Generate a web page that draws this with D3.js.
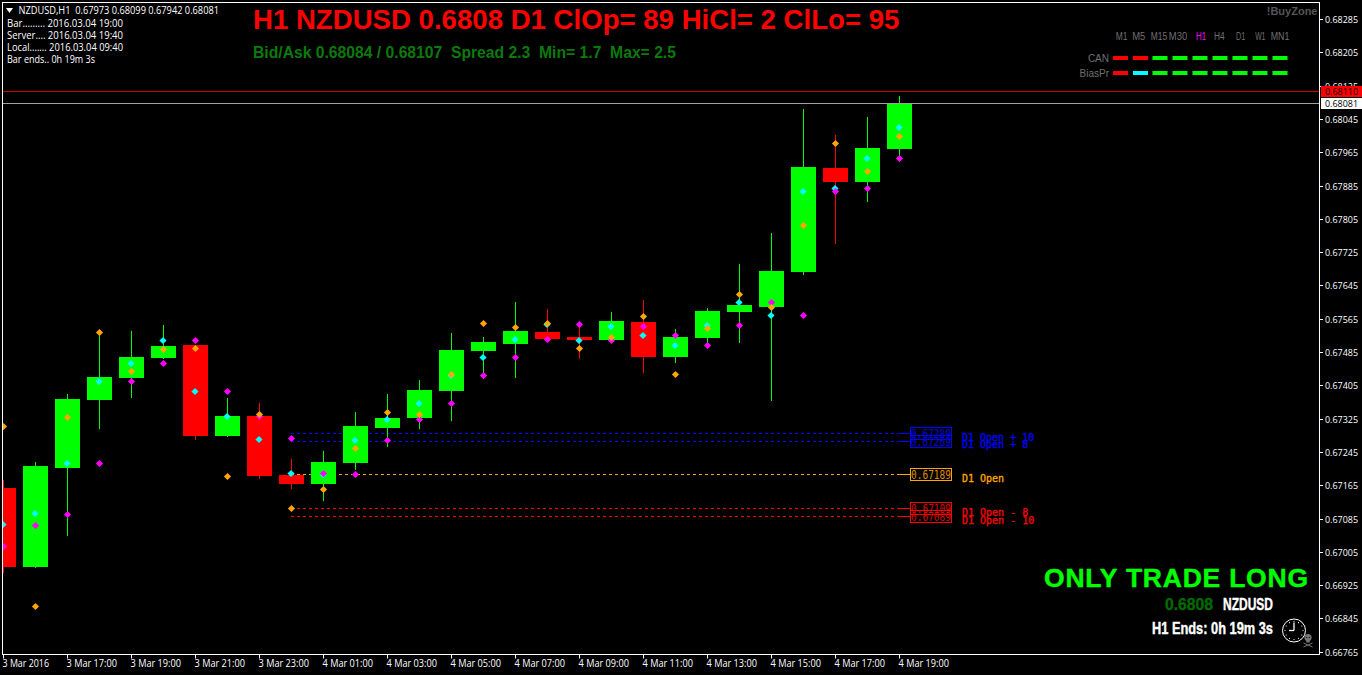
<!DOCTYPE html>
<html><head><meta charset="utf-8">
<style>html,body{margin:0;padding:0;background:#000;overflow:hidden}svg{display:block}text{white-space:pre}</style>
<script src="https://cdn.jsdelivr.net/npm/d3@7"></script></head>
<body><svg id="c" width="1362" height="675"></svg>
<script>
// Candles in 1e-5 price units
const opens =[67158,66969,67206,67370,67423,67471,67502,67283,67331,67190,67168,67219,67303,67327,67391,67488,67504,67533,67521,67514,67557,67473,67519,67581,67593,67677,67927,67893,67973];
const highs =[67178,67221,67384,67531,67536,67550,67503,67375,67363,67228,67247,67341,67384,67418,67531,67521,67605,67588,67552,67581,67610,67540,67591,67697,67771,68069,68006,68050,68099];
const lows  =[66955,66966,67044,67301,67375,67468,67274,67281,67180,67156,67126,67202,67257,67300,67319,67420,67423,67515,67468,67513,67435,67459,67502,67507,67367,67670,67745,67845,67942];
const closes=[66969,67211,67372,67425,67473,67500,67283,67331,67187,67168,67221,67307,67327,67394,67490,67509,67536,67516,67514,67560,67473,67521,67584,67598,67680,67930,67893,67975,68081];
const cyanPts   =[67070,67096,67217,67414,67458,67513,67390,67330,67275,67193,67190,67273,67323,67361,67429,67472,67515,67552,67513,67546,67525,67501,67548,67604,67573,67871,67878,67950,68024];
const magentaPts=[67017,67068,67095,67217,67414,67458,67513,67390,67330,67276,67193,67190,67273,67324,67361,67429,67472,67515,67551,67513,67546,67525,67501,67548,67604,67573,67871,67878,67950];
const orangePts =[67305,66874,67327,67531,67438,67491,67494,67186,67335,67110,67154,67253,67340,67335,67430,67554,67544,67554,67494,67520,67570,67431,67542,67623,67593,67789,67986,67919,68003];
const priceTicks=[0.68285,0.68205,0.68125,0.68045,0.67965,0.67885,0.67805,0.67725,0.67645,0.67565,0.67485,0.67405,0.67325,0.67245,0.67165,0.67085,0.67005,0.66925,0.66845,0.66765];
const timeTickIdx=[0,2,4,6,8,10,12,14,16,18,20,22,24,26,28];
const timeLabels=["3 Mar 2016","3 Mar 17:00","3 Mar 19:00","3 Mar 21:00","3 Mar 23:00","4 Mar 01:00","4 Mar 03:00","4 Mar 05:00","4 Mar 07:00","4 Mar 09:00","4 Mar 11:00","4 Mar 13:00","4 Mar 15:00","4 Mar 17:00","4 Mar 19:00"];
const levelPrices=[0.67289,0.67269,0.67189,0.67109,0.67089];
const levelNames=["D1 Open + 10","D1 Open + 8","D1 Open","D1 Open - 8","D1 Open - 10"];
const levelColors=["#0000ff","#0000ff","#ffa500","#ff0000","#ff0000"];
const askPrice=0.6811, bidPrice=0.68081;
const tfNames=["M1","M5","M15","M30","H1","H4","D1","W1","MN1"];
const canColors=["#f00","#f00","#0f0","#0f0","#0f0","#0f0","#0f0","#0f0","#0f0"];
const biasColors=["#f00","#0ff","#0f0","#0f0","#0f0","#0f0","#0f0","#0f0","#0f0"];
const infoLines=["Bar......... 2016.03.04 19:00","Server.... 2016.03.04 19:40","Local....... 2016.03.04 09:40","Bar ends.. 0h 19m 3s"];

const svg=d3.select("#c");
svg.append("rect").attr("width",1362).attr("height",675).attr("fill","#000");
const UI="'Open Sans',sans-serif";
const AR="'Liberation Sans',Arial,sans-serif";
const L=3,R=1319,T=2.5,B=654.5;
const y=d3.scaleLinear().domain([0.66765,0.68285]).range([651.7,19]);
const x=d3.scaleLinear().domain([0,28]).range([3,899]);
const yc=v=>y(v/1e5);
svg.append("defs").append("clipPath").attr("id","plot").append("rect").attr("x",L).attr("y",T).attr("width",R-L).attr("height",B-T);
const plot=svg.append("g").attr("clip-path","url(#plot)");
// text helper: squeezes to a measured width
function txt(parent,s,xx,yy,o){
  const t=parent.append("text").attr("x",xx).attr("y",yy).attr("font-family",o.font||UI).attr("font-size",o.size).attr("fill",o.fill).text(s);
  if(o.weight)t.attr("font-weight",o.weight);
  if(o.anchor)t.attr("text-anchor",o.anchor);
  if(o.w)t.attr("textLength",o.w).attr("lengthAdjust",o.adj||"spacingAndGlyphs");
  if(o.opacity)t.attr("opacity",o.opacity);
  if(o.stroke)t.attr("stroke",o.fill).attr("stroke-width",o.stroke);
  return t;
}

// level lines
levelPrices.forEach((p,i)=>{
  const yy=Math.round(y(p))-.5;
  plot.append("line").attr("x1",291).attr("x2",900).attr("y1",yy).attr("y2",yy).attr("stroke",levelColors[i]).attr("stroke-dasharray","3,3");
  plot.append("line").attr("x1",900).attr("x2",910).attr("y1",yy).attr("y2",yy).attr("stroke",levelColors[i]);
});

// candles
const idx=d3.range(opens.length);
const col=i=>closes[i]>=opens[i]?"#00ff00":"#ff0000";
plot.selectAll("line.w").data(idx).join("line").attr("class","w")
  .attr("x1",i=>x(i)+.5).attr("x2",i=>x(i)+.5).attr("y1",i=>yc(highs[i])).attr("y2",i=>yc(lows[i]))
  .attr("stroke",col).attr("shape-rendering","crispEdges");
plot.selectAll("rect.b").data(idx).join("rect").attr("class","b")
  .attr("x",i=>x(i)-12).attr("width",25)
  .attr("y",i=>yc(Math.max(opens[i],closes[i]))).attr("height",i=>Math.abs(yc(opens[i])-yc(closes[i])))
  .attr("fill",col).attr("shape-rendering","crispEdges");

// price lines
const askY=Math.round(y(askPrice))-.5, bidY=Math.round(y(bidPrice))-.5;
plot.append("line").attr("x1",L).attr("x2",R).attr("y1",askY).attr("y2",askY).attr("stroke","#d00000");
plot.append("line").attr("x1",L).attr("x2",R).attr("y1",bidY).attr("y2",bidY).attr("stroke","#a0a0a0");

// markers
const dia="M0,-3.6L3.6,0L0,3.6L-3.6,0Z";
function marks(arr,color,dx){
  plot.append("g").selectAll("path").data(arr).join("path").attr("d",dia)
    .attr("transform",(d,i)=>`translate(${x(i)+dx},${Math.floor(yc(d))+.5})`).attr("fill",color);
}
marks(cyanPts,"#00ffff",0);
marks(magentaPts,"#ff00ff",.5);
marks(orangePts,"#ffa500",.5);

// level boxes
levelPrices.forEach((p,i)=>{
  const yy=Math.round(y(p))-.5;
  svg.append("rect").attr("x",910.5).attr("y",yy-6).attr("width",41).attr("height",12).attr("fill","none").attr("stroke",levelColors[i]);
  txt(svg,p.toFixed(5),911,yy+4.5,{font:"'DejaVu Sans Mono',monospace",size:12.5,fill:levelColors[i],w:40,opacity:.85});
  txt(svg,levelNames[i],962,y(p)+(i==1?6:7),{font:"'DejaVu Sans Mono',monospace",size:10,fill:levelColors[i],stroke:.3});
});

// frame and axes
svg.append("rect").attr("x",2.5).attr("y",T).attr("width",R-2).attr("height",B-T).attr("fill","none").attr("stroke","#fff");
const yAxis=svg.append("g");
priceTicks.forEach(p=>{
  const yy=Math.round(y(p))+.5;
  yAxis.append("line").attr("x1",R).attr("x2",R+4).attr("y1",yy).attr("y2",yy).attr("stroke","#fff");
  txt(yAxis,p.toFixed(5),1325,yy+3,{size:9.6,fill:"#fff",w:33});
});
timeTickIdx.forEach((i,k)=>{
  const xx=Math.round(x(i))+.5;
  svg.append("line").attr("x1",xx).attr("x2",xx).attr("y1",B).attr("y2",B+4).attr("stroke","#fff");
  txt(svg,timeLabels[k],xx-1,667,{size:10.5,fill:"#fff",w:k==0?46.5:50.5});
});
// current price tags
svg.append("rect").attr("x",1321).attr("y",86).attr("width",41).attr("height",11).attr("fill","#ff0000");
txt(svg,askPrice.toFixed(5),1325,95,{size:9.6,fill:"#000",w:33});
svg.append("rect").attr("x",1321).attr("y",98).attr("width",41).attr("height",11).attr("fill","#fff");
txt(svg,bidPrice.toFixed(5),1325,107,{size:9.6,fill:"#000",w:33});

// header info
svg.append("path").attr("d","M6,8H13L9.5,13Z").attr("fill","#fff");
txt(svg,"NZDUSD,H1  0.67973 0.68099 0.67942 0.68081",18.5,14,{size:10,fill:"#fff",w:200.5});
infoLines.forEach((t,i)=>txt(svg,t,7,27+12*i,{size:10,fill:"#fff",w:i==3?88:116}));
txt(svg,"H1 NZDUSD 0.6808 D1 ClOp= 89 HiCl= 2 ClLo= 95",253,29,{font:AR,weight:700,size:27.6,fill:"#ff0000"});
txt(svg,"Bid/Ask 0.68084 / 0.68107  Spread 2.3  Min= 1.7  Max= 2.5",253,58,{font:AR,weight:700,size:15.7,fill:"#0b7a0b"});

// top-right dashboard
txt(svg,"!BuyZone",1317.5,15,{font:AR,weight:700,size:11,fill:"#555",anchor:"end"});
const tfCenters=[1121.7,1138.7,1159,1178,1201,1219.3,1240.7,1260.3,1280];
const tfWidths=[11.7,13,16.3,18.3,10,10.7,9.3,10.3,18.7];
const barX=[1113,1133,1152.5,1172.5,1192.5,1212.5,1232.5,1252.5,1272.5];
tfNames.forEach((t,i)=>{
  txt(svg,t,tfCenters[i]-tfWidths[i]/2,40,{font:AR,size:10,fill:t==="H1"?"#ff00ff":"#707070",w:tfWidths[i]});
  svg.append("rect").attr("x",barX[i]).attr("y",56).attr("width",15).attr("height",4).attr("fill",canColors[i]);
  svg.append("rect").attr("x",barX[i]).attr("y",71).attr("width",15).attr("height",4).attr("fill",biasColors[i]);
});
txt(svg,"CAN",1109,62,{font:AR,size:10,fill:"#707070",anchor:"end"});
txt(svg,"BiasPr",1109,77,{font:AR,size:10,fill:"#707070",anchor:"end"});

// bottom-right
txt(svg,"ONLY TRADE LONG",1044,587,{font:AR,weight:700,size:26.5,fill:"#00ff00",w:264,adj:"spacing",stroke:.4});
txt(svg,"0.6808",1165,610,{font:AR,weight:700,size:16.3,fill:"#006a00",w:48,stroke:.4});
txt(svg,"NZDUSD",1223,610,{font:AR,weight:700,size:16.3,fill:"#fff",w:50,stroke:.4});
txt(svg,"H1 Ends: 0h 19m 3s",1152,634,{font:AR,weight:700,size:16.3,fill:"#fff",w:121,stroke:.4});

// clock
const clk=svg.append("g").attr("transform","translate(1294,630.5)");
clk.append("circle").attr("r",11.5).attr("fill","none").attr("stroke","#fff");
d3.range(12).forEach(h=>{const a=h*Math.PI/6;clk.append("circle").attr("cx",9*Math.sin(a)).attr("cy",-9*Math.cos(a)).attr("r",.6).attr("fill","#fff");});
clk.append("line").attr("x1",0).attr("y1",0).attr("x2",0).attr("y2",-8).attr("stroke","#fff").attr("stroke-width",1.3);
clk.append("line").attr("x1",-5).attr("y1",0).attr("x2",0).attr("y2",0).attr("stroke","#fff").attr("stroke-width",1.3);
// skull and crossbones
const sk=svg.append("g").attr("transform","translate(1308,640)").attr("fill","#777").attr("stroke","#777");
sk.append("circle").attr("cx",0).attr("cy",-2.5).attr("r",3.6).attr("stroke","none");
sk.append("rect").attr("x",-1.8).attr("y",0).attr("width",3.6).attr("height",2.5).attr("stroke","none");
sk.append("circle").attr("cx",-1.4).attr("cy",-2.5).attr("r",.8).attr("fill","#222").attr("stroke","none");
sk.append("circle").attr("cx",1.4).attr("cy",-2.5).attr("r",.8).attr("fill","#222").attr("stroke","none");
sk.append("line").attr("x1",-4.5).attr("y1",3).attr("x2",4.5).attr("y2",7);
sk.append("line").attr("x1",4.5).attr("y1",3).attr("x2",-4.5).attr("y2",7);
</script></body></html>
